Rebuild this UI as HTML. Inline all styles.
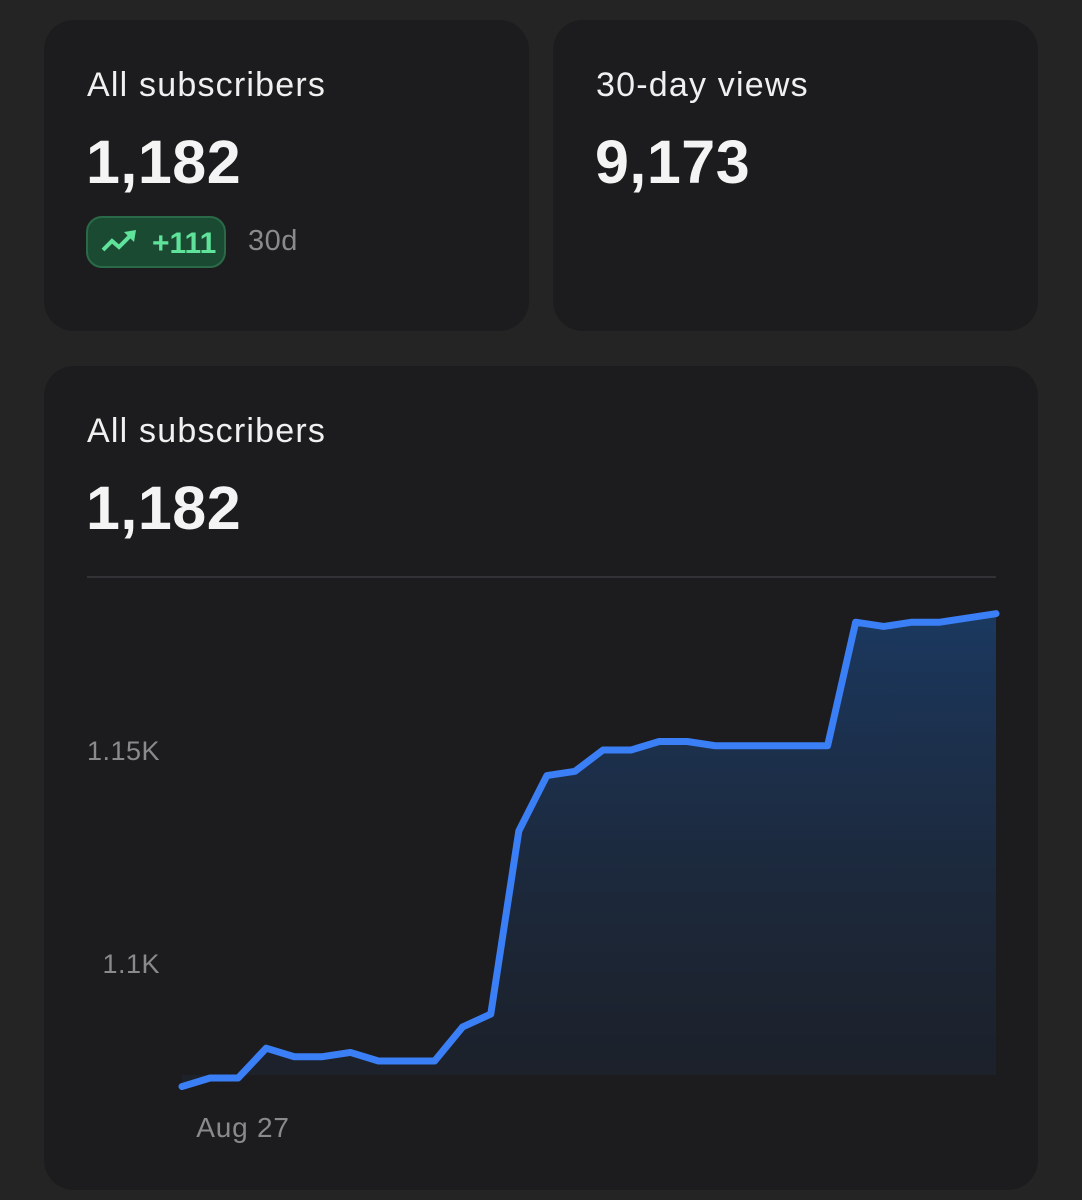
<!DOCTYPE html>
<html><head><meta charset="utf-8"><style>
body{margin:0;width:1082px;height:1200px;background:#232423;font-family:"Liberation Sans",sans-serif;overflow:hidden;position:relative;color:#f2f2f2}
.card{position:absolute;background:#1c1c1e;border-radius:30px}
.t{position:absolute;font-size:34px;letter-spacing:1.2px;color:#f0f0f0}
.n{position:absolute;font-size:61px;font-weight:bold;color:#f4f4f4;letter-spacing:0.5px}
</style></head><body>
<div class="card" style="left:44px;top:20px;width:485px;height:311px">
 <div class="t" style="left:43px;top:46px">All subscribers</div>
 <div class="n" style="left:42px;top:107px">1,182</div>
 <div style="position:absolute;left:42px;top:196px;width:140px;height:52px;border-radius:16px;background:#1b4a33;border:2px solid #2a6a48;box-sizing:border-box">
  <svg width="40" height="30" style="position:absolute;left:12px;top:10px"><polyline points="3,22 12,13 19,19 32,6" fill="none" stroke="#5fe39a" stroke-width="4"/><polygon points="24,4 36,2 34,14" fill="#5fe39a"/></svg>
  <span style="position:absolute;left:64px;top:9px;font-size:30px;font-weight:bold;color:#5fe39a">+111</span>
 </div>
 <div style="position:absolute;left:204px;top:205px;font-size:29px;letter-spacing:0.5px;color:#8a8a8c">30d</div>
</div>
<div class="card" style="left:553px;top:20px;width:485px;height:311px">
 <div class="t" style="left:43px;top:46px">30-day views</div>
 <div class="n" style="left:42px;top:107px">9,173</div>
</div>
<div class="card" style="left:44px;top:366px;width:994px;height:824px">
 <div class="t" style="left:43px;top:46px">All subscribers</div>
 <div class="n" style="left:42px;top:107px">1,182</div>
</div>
<svg id="chart" width="1082" height="1200" style="position:absolute;left:0;top:0">
 <defs><linearGradient id="g" x1="0" y1="0" x2="0" y2="1"><stop offset="0" stop-color="#1b3a63" stop-opacity="0.95"/><stop offset="1" stop-color="#1c2535" stop-opacity="0.5"/></linearGradient></defs>
</svg>
<script>
const values=[1071,1073,1073,1080,1078,1078,1079,1077,1077,1077,1085,1088,1131,1144,1145,1150,1150,1152,1152,1151,1151,1151,1151,1151,1180,1179,1180,1180,1181,1182];
const tickValues=[1100,1150];
const tickLabels=["1.1K","1.15K"];
const xLabel="Aug 27";
const svg=document.getElementById('chart');const NS='http://www.w3.org/2000/svg';
const X=i=>182+i*(996-182)/(values.length-1);
const Y=v=>963-(v-1100)*4.26;
function mk(t,a){const e=document.createElementNS(NS,t);for(const k in a)e.setAttribute(k,a[k]);svg.appendChild(e);return e;}
const grid=mk('line',{x1:87,x2:996,y1:577,y2:577,stroke:'#3a3a3e','stroke-width':1.5});


tickValues.forEach((v,i)=>{const t=mk('text',{x:160,y:Y(v)+10,'text-anchor':'end','font-size':27,'letter-spacing':0.5,fill:'#8a8a8c','font-family':'Liberation Sans'});t.textContent=tickLabels[i];

});
const xl=mk('text',{x:243,y:1137,'text-anchor':'middle','font-size':28,'letter-spacing':0.8,fill:'#8a8a8c','font-family':'Liberation Sans'});xl.textContent=xLabel;


const pts=values.map((v,i)=>X(i)+','+Y(v));
const area=mk('polygon',{points:pts.join(' ')+' '+X(values.length-1)+',1075 '+X(0)+',1075',fill:'url(#g)'});


const line=mk('polyline',{points:pts.join(' '),fill:'none',stroke:'#3a7ff6','stroke-width':7,'stroke-linejoin':'round','stroke-linecap':'round'});


</script>
</body></html>
